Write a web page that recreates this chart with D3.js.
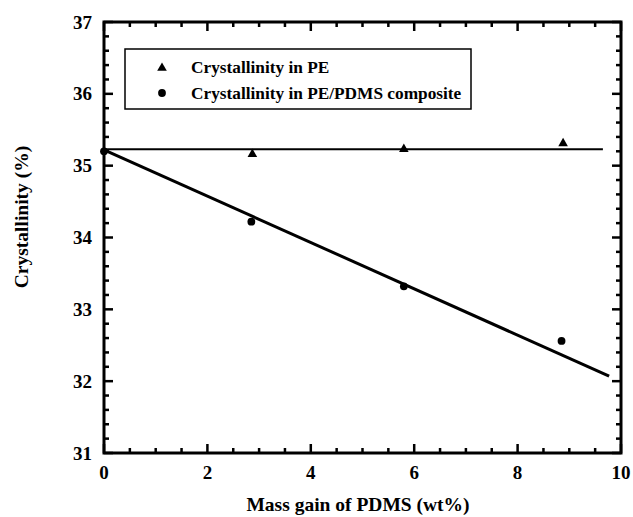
<!DOCTYPE html>
<html><head><meta charset="utf-8">
<script src="https://cdn.jsdelivr.net/npm/d3@7"></script>
<style>body{margin:0;background:#fff}svg{display:block}text{font-family:"Liberation Serif","Times New Roman",serif;font-weight:bold;fill:#000}</style>
</head><body><svg id="c" width="633" height="517"></svg>
<script>
const peX = [2.87, 5.8, 8.88];
const peY = [35.16, 35.23, 35.31];
const compX = [0, 2.85, 5.8, 8.85];
const compY = [35.2, 34.22, 33.32, 32.56];
const peFit = [[0, 35.23], [9.65, 35.23]];
const compFit = [[0, 35.22], [9.77, 32.07]];
const xTicks = [0, 2, 4, 6, 8, 10];
const yTicks = [31, 32, 33, 34, 35, 36, 37];
const legendLabels = ["Crystallinity in PE", "Crystallinity in PE/PDMS composite"];
const xTitle = "Mass gain of PDMS (wt%)";
const yTitle = "Crystallinity (%)";

const L = 104, R = 621, T = 22, B = 453;
const svg = d3.select("#c");
const x = d3.scaleLinear().domain([0, 10]).range([L, R]);
const y = d3.scaleLinear().domain([31, 37]).range([B, T]);

const xMinor = d3.range(0, 10.001, 0.5).filter(v => Math.abs(v - Math.round(v / 2) * 2) > 1e-6);
const yMinor = d3.range(31, 37.001, 0.2).filter(v => Math.abs(v - Math.round(v)) > 1e-6);

const g = svg.append("g");
function tick(x1, y1, x2, y2, w) {
  g.append("line").attr("x1", x1).attr("y1", y1).attr("x2", x2).attr("y2", y2)
    .attr("stroke", "#000").attr("stroke-width", w);
}
xTicks.forEach(v => { tick(x(v), B, x(v), B - 9, 2.5); tick(x(v), T, x(v), T + 9, 2.5); });
xMinor.forEach(v => { tick(x(v), B, x(v), B - 5, 2.5); tick(x(v), T, x(v), T + 5, 2.5); });
yTicks.forEach(v => { tick(L, y(v), L + 9, y(v), 2.5); tick(R, y(v), R - 9, y(v), 2.5); });
yMinor.forEach(v => { tick(L, y(v), L + 5, y(v), 2.5); tick(R, y(v), R - 5, y(v), 2.5); });

g.append("rect").attr("x", L).attr("y", T).attr("width", R - L).attr("height", B - T)
  .attr("fill", "none").attr("stroke", "#000").attr("stroke-width", 3);

g.selectAll(".xl").data(xTicks).join("text").attr("x", d => x(d)).attr("y", B + 26)
  .attr("text-anchor", "middle").attr("font-size", 19).text(d => d);
g.selectAll(".yl").data(yTicks).join("text").attr("x", L - 12).attr("y", d => y(d) + 6.5)
  .attr("text-anchor", "end").attr("font-size", 19).text(d => d);

svg.append("text").attr("x", 358).attr("y", 511).attr("text-anchor", "middle")
  .attr("font-size", 19.5).text(xTitle);
svg.append("text").attr("transform", `translate(28,217) rotate(-90)`)
  .attr("text-anchor", "middle").attr("font-size", 19.5).text(yTitle);

const line = d3.line().x(d => x(d[0])).y(d => y(d[1]));
svg.append("path").attr("d", line(peFit)).attr("fill", "none").attr("stroke", "#000").attr("stroke-width", 2);
svg.append("path").attr("d", line(compFit)).attr("fill", "none").attr("stroke", "#000").attr("stroke-width", 3);

const tri = d3.symbol().type(d3.symbolTriangle).size(40);
svg.selectAll(".pe").data(peX).join("path")
  .attr("transform", (d, i) => `translate(${x(d)},${y(peY[i])})`).attr("d", tri).attr("fill", "#000");
svg.selectAll(".cp").data(compX).join("circle")
  .attr("cx", d => x(d)).attr("cy", (d, i) => y(compY[i])).attr("r", 3.9).attr("fill", "#000");

const lg = svg.append("g");
lg.append("rect").attr("x", 125).attr("y", 49).attr("width", 346).attr("height", 60)
  .attr("fill", "#fff").attr("stroke", "#000").attr("stroke-width", 1.5);
lg.append("path").attr("transform", "translate(162,68)").attr("d", tri).attr("fill", "#000");
lg.append("circle").attr("cx", 162).attr("cy", 93).attr("r", 3.9).attr("fill", "#000");
lg.selectAll(".lt").data(legendLabels).join("text").attr("x", 191).attr("y", (d, i) => 73 + i * 26)
  .attr("font-size", 17.3).text(d => d);
</script></body></html>
